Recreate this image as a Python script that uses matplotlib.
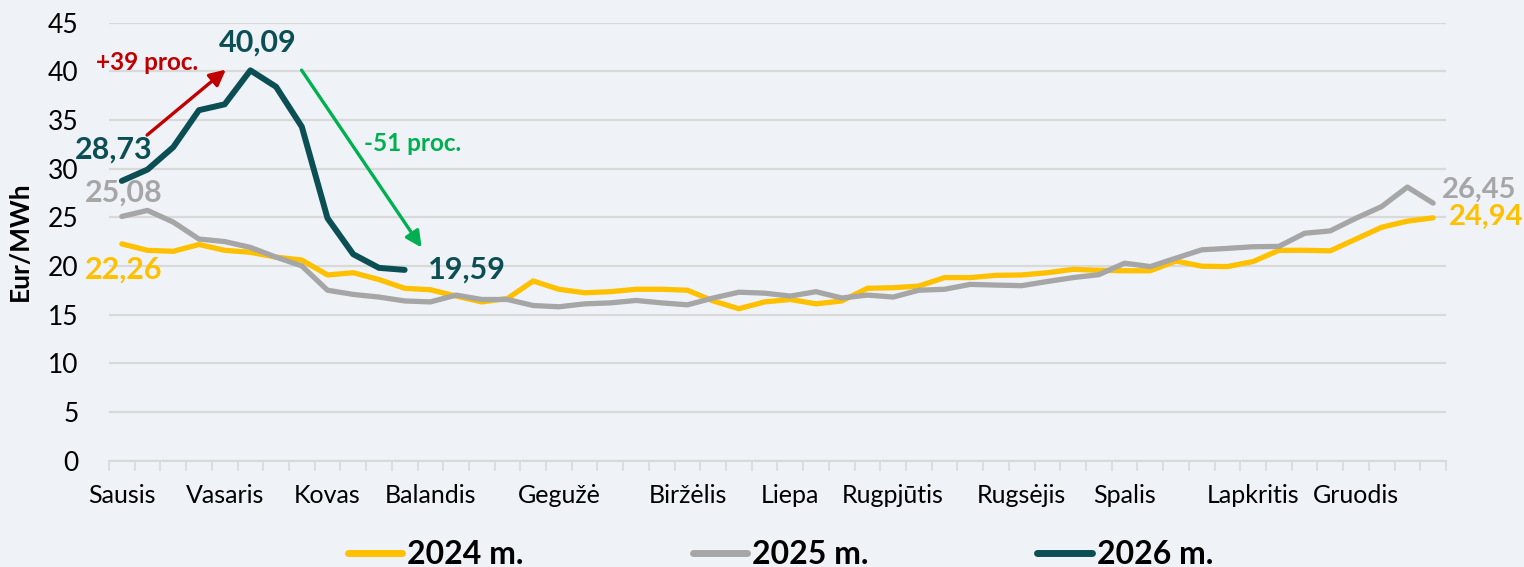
import numpy as np
import matplotlib
matplotlib.use("Agg")
import matplotlib.pyplot as plt

plt.rcParams['font.family'] = ['Lato', 'DejaVu Sans']

# weekly prices, Eur/MWh
prices2024 = [22.26, 21.6, 21.5, 22.2, 21.6, 21.4, 20.9, 20.6, 19.07, 19.3,
              18.6, 17.7, 17.55, 16.9, 16.3, 16.65, 18.45, 17.6, 17.24, 17.35,
              17.6, 17.6, 17.5, 16.4, 15.6, 16.3, 16.55, 16.1, 16.4, 17.7,
              17.76, 17.93, 18.8, 18.8, 19.03, 19.07, 19.3, 19.65, 19.55, 19.5,
              19.5, 20.5, 19.97, 19.93, 20.45, 21.6, 21.6, 21.55, 22.76, 23.97,
              24.6, 24.94]
prices2025 = [25.08, 25.7, 24.5, 22.76, 22.5, 21.9, 20.9, 20.0, 17.5, 17.07,
              16.8, 16.4, 16.3, 17.0, 16.55, 16.55, 15.93, 15.8, 16.1, 16.2,
              16.45, 16.2, 16.0, 16.7, 17.3, 17.2, 16.9, 17.35, 16.7, 17.0,
              16.8, 17.5, 17.6, 18.1, 18.03, 17.97, 18.4, 18.8, 19.1, 20.28,
              19.93, 20.8, 21.65, 21.8, 21.97, 22.0, 23.35, 23.6, 24.9, 26.1,
              28.1, 26.45]
prices2026 = [28.73, 29.9, 32.2, 36.0, 36.6, 40.09, 38.4, 34.3, 24.9, 21.2,
              19.8, 19.59]

month_pos = [0, 4, 8, 12, 17, 22, 26, 30, 35, 39, 44, 48]
month_names = ['Sausis', 'Vasaris', 'Kovas', 'Balandis', 'Gegužė', 'Biržėlis',
               'Liepa', 'Rugpjūtis', 'Rugsėjis', 'Spalis', 'Lapkritis', 'Gruodis']

yellow = '#FFC000'
grey = '#A6A6A6'
teal = '#0B4F55'
bg = '#EFF3F7'

fig = plt.figure(figsize=(15.24, 5.67), dpi=100, facecolor=bg)
ax = fig.add_axes([0.0715, 0.1877, 0.8773, 0.7725], facecolor=bg)

x24 = np.arange(len(prices2024))
x25 = np.arange(len(prices2025))
x26 = np.arange(len(prices2026))
ax.plot(x24, prices2024, color=yellow, lw=3.8, solid_capstyle='round', label='2024 m.', zorder=3)
ax.plot(x25, prices2025, color=grey, lw=3.8, solid_capstyle='round', label='2025 m.', zorder=3)
ax.plot(x26, prices2026, color=teal, lw=4.3, solid_capstyle='round', label='2026 m.', zorder=4)

ax.set_xlim(-0.5, len(prices2024) - 0.5)
ax.set_ylim(0, 45)
ax.set_yticks(range(0, 46, 5))
ax.grid(axis='y', color='#D9D9D9', lw=1.6, zorder=0)
ax.set_axisbelow(True)
for s in ['top', 'right', 'left']:
    ax.spines[s].set_visible(False)
ax.spines['bottom'].set_color('#D9D9D9')
ax.spines['bottom'].set_linewidth(1.6)

ax.set_xticks(month_pos)
ax.set_xticklabels(month_names, fontsize=18, color='#000000')
ax.tick_params(axis='x', length=0, pad=17)
ax.set_xticks(np.arange(-0.5, len(prices2024)), minor=True)
ax.tick_params(axis='x', which='minor', length=7, color='#D9D9D9', width=1.2)
ax.tick_params(axis='y', length=0, labelsize=19, pad=22)

ax.set_ylabel('Eur/MWh', fontsize=19, fontweight='bold', labelpad=0)
ax.yaxis.set_label_coords(-0.058, 0.5)

# value labels
lab = dict(fontweight='bold', fontsize=22, annotation_clip=False)
ax.annotate('28,73', (-0.31, 31.9), ha='center', va='center', color=teal, **lab)
ax.annotate('25,08', (0.08, 27.5), ha='center', va='center', color=grey, **lab)
ax.annotate('22,26', (0.08, 19.6), ha='center', va='center', color=yellow, **lab)
ax.annotate('40,09', (5.3, 42.9), ha='center', va='center', color=teal, **lab)
ax.annotate('19,59', (11.9, 19.6), ha='left', va='center', color=teal, **lab)
lab['fontsize'] = 21
ax.annotate('26,45', (51.35, 27.8), ha='left', va='center', color=grey, **lab)
ax.annotate('24,94', (51.6, 25.0), ha='left', va='center', color=yellow, **lab)

# change arrows
ax.annotate('', xy=(4.13, 40.35), xytext=(0.9, 33.26),
            arrowprops=dict(arrowstyle='-|>', color='#C00000', lw=2.4, mutation_scale=24))
ax.annotate('', xy=(11.72, 21.65), xytext=(6.93, 40.35),
            arrowprops=dict(arrowstyle='-|>', color='#00B050', lw=2.4, mutation_scale=24))
ax.text(0.97, 40.85, '+39 proc.', ha='center', va='center', color='#C00000',
        fontsize=17.5, fontweight='bold')
ax.text(11.29, 32.6, '-51 proc.', ha='center', va='center', color='#00B050',
        fontsize=17.5, fontweight='bold')

leg = fig.legend(loc='center', bbox_to_anchor=(0.512, 0.022), ncol=3, frameon=False,
                 handlelength=1.7, handletextpad=0.15, columnspacing=5.3,
                 prop={'weight': 'bold', 'size': 23})
for h in leg.legend_handles:
    h.set_linewidth(5)

fig.savefig('out.png', dpi=100, facecolor=bg)
